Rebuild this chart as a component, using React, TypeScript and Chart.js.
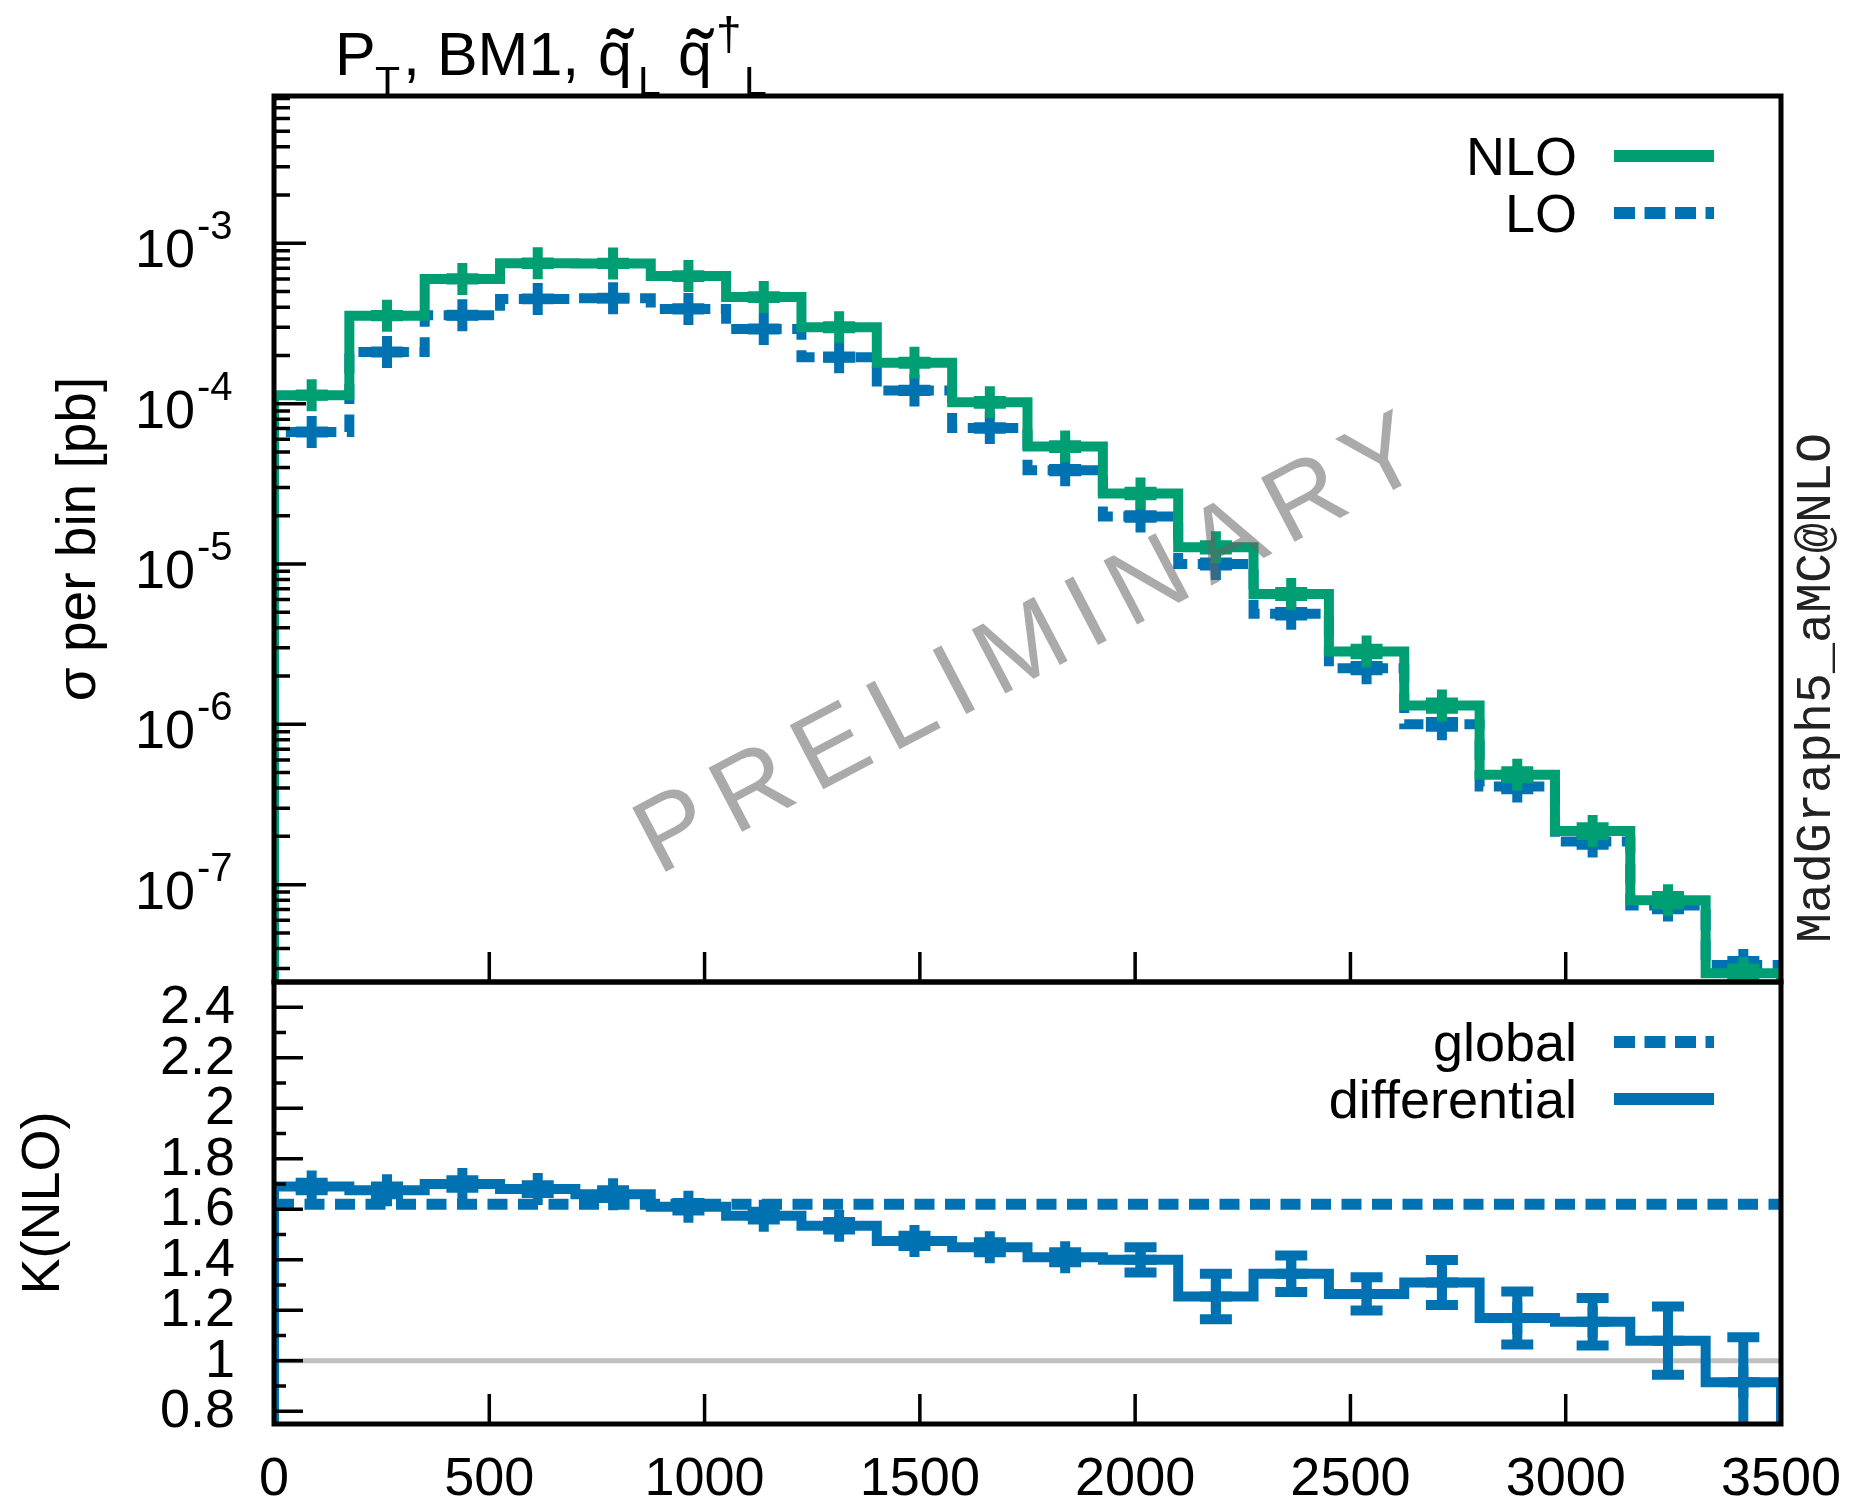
import React, { useEffect, useRef } from 'react';
import { Chart, registerables } from 'chart.js';

Chart.register(...registerables);

// ---------------- data ----------------
const binEdges = [0, 175, 350, 525, 700, 875, 1050, 1225, 1400, 1575, 1750, 1925, 2100, 2275, 2450, 2625, 2800, 2975, 3150, 3325, 3500];
const binCenters = [87.5, 262.5, 437.5, 612.5, 787.5, 962.5, 1137.5, 1312.5, 1487.5, 1662.5, 1837.5, 2012.5, 2187.5, 2362.5, 2537.5, 2712.5, 2887.5, 3062.5, 3237.5, 3412.5];

const nloSigma = [1.13e-4, 3.54e-4, 6.0e-4, 7.52e-4, 7.5e-4, 6.25e-4, 4.62e-4, 3.0e-4, 1.8e-4, 1.02e-4, 5.4e-5, 2.75e-5, 1.27e-5, 6.5e-6, 2.85e-6, 1.31e-6, 4.85e-7, 2.16e-7, 8.0e-8, 2.8e-8];
const loSigma = [6.66e-5, 2.1e-4, 3.56e-4, 4.5e-4, 4.55e-4, 3.9e-4, 2.92e-4, 1.95e-4, 1.21e-4, 7.05e-5, 3.85e-5, 1.98e-5, 1.0e-5, 4.9e-6, 2.24e-6, 1.0e-6, 4.1e-7, 1.86e-7, 7.4e-8, 3.15e-8];
const nloRelErr = [0.01, 0.01, 0.01, 0.01, 0.01, 0.012, 0.012, 0.015, 0.015, 0.02, 0.02, 0.025, 0.03, 0.03, 0.04, 0.045, 0.05, 0.055, 0.06, 0.07];
const loRelErr = [0.006, 0.006, 0.006, 0.006, 0.006, 0.008, 0.008, 0.01, 0.01, 0.012, 0.015, 0.018, 0.02, 0.025, 0.03, 0.035, 0.04, 0.045, 0.05, 0.06];

const kDifferential = [1.69, 1.675, 1.70, 1.68, 1.66, 1.61, 1.575, 1.535, 1.475, 1.45, 1.41, 1.40, 1.255, 1.345, 1.265, 1.31, 1.17, 1.155, 1.08, 0.915];
const kDifferentialErr = [0.015, 0.015, 0.015, 0.015, 0.015, 0.015, 0.015, 0.015, 0.02, 0.02, 0.02, 0.05, 0.09, 0.072, 0.066, 0.089, 0.105, 0.094, 0.135, 0.178];
const kGlobal = [1.62, 1.62];
const kGlobalX = [0, 3500];
const kReference = [1, 1];

const xTickValues = [0, 500, 1000, 1500, 2000, 2500, 3000, 3500];
const xTickLabels = ['0', '500', '1000', '1500', '2000', '2500', '3000', '3500'];
const sigmaMajorTicks = [1e-3, 1e-4, 1e-5, 1e-6, 1e-7];
const sigmaTickExponents = ['-3', '-4', '-5', '-6', '-7'];
const kMajorTicks = [0.8, 1, 1.2, 1.4, 1.6, 1.8, 2, 2.2, 2.4];
const kTickLabels = ['0.8', '1', '1.2', '1.4', '1.6', '1.8', '2', '2.2', '2.4'];
const kMinorTicks = [0.9, 1.1, 1.3, 1.5, 1.7, 1.9, 2.1, 2.3];

const upperLegend = ['NLO', 'LO'];
const lowerLegend = ['global', 'differential'];
const yTitleUpper = 'σ per bin [pb]';
const yTitleLower = 'K(NLO)';
const sideText = 'MadGraph5_aMC@NLO';
const watermark = 'PRELIMINARY';

// ---------------- style ----------------
const W = 1861;
const H = 1509;
const FONT = '"Liberation Sans", Arial, Helvetica, sans-serif';
const MONO = '"Liberation Mono", "Courier New", monospace';
const GREEN = '#009E73';
const BLUE = '#0072B2';
const DASH = [20, 10.5];

function stepPoints(values: number[], floor: number) {
  const pts: { x: number; y: number }[] = [{ x: binEdges[0], y: floor }];
  values.forEach((v, i) => pts.push({ x: binEdges[i], y: v }));
  pts.push({ x: binEdges[binEdges.length - 1], y: values[values.length - 1] });
  pts.push({ x: binEdges[binEdges.length - 1], y: floor });
  return pts;
}

function markerPoints(values: number[]) {
  return binCenters.map((x, i) => ({ x, y: values[i] }));
}

const errorBarPlugin = {
  id: 'errorBars',
  afterDatasetDraw(chart: any, args: any) {
    const ds = chart.data.datasets[args.index];
    if (!ds.errors) return;
    const meta = args.meta;
    const xs = chart.scales[meta.xAxisID];
    const ys = chart.scales[meta.yAxisID];
    const a = chart.chartArea;
    const ctx = chart.ctx;
    ctx.save();
    ctx.beginPath();
    ctx.rect(a.left, a.top, a.right - a.left, a.bottom - a.top);
    ctx.clip();
    ctx.strokeStyle = ds.pointBorderColor;
    ctx.lineWidth = ds.errorWidth;
    ctx.lineCap = 'butt';
    ctx.setLineDash([]);
    ds.data.forEach((p: any, i: number) => {
      const e = ds.errors[i];
      const px = xs.getPixelForValue(p.x);
      const y1 = ys.getPixelForValue(p.y - e);
      const y2 = ys.getPixelForValue(p.y + e);
      const cap = 16;
      ctx.beginPath();
      ctx.moveTo(px, y1);
      ctx.lineTo(px, y2);
      ctx.moveTo(px - cap, y1);
      ctx.lineTo(px + cap, y1);
      ctx.moveTo(px - cap, y2);
      ctx.lineTo(px + cap, y2);
      ctx.stroke();
    });
    ctx.restore();
  },
};

function drawRotatedText(ctx: CanvasRenderingContext2D, text: string, x: number, y: number, font: string, color: string) {
  ctx.save();
  ctx.translate(x, y);
  ctx.rotate(-Math.PI / 2);
  ctx.font = font;
  ctx.fillStyle = color;
  ctx.textAlign = 'center';
  ctx.textBaseline = 'alphabetic';
  ctx.fillText(text, 0, 0);
  ctx.restore();
}

function drawLegend(ctx: CanvasRenderingContext2D, a: any, labels: string[], styles: { color: string; dash: number[] }[]) {
  ctx.save();
  ctx.font = `54px ${FONT}`;
  ctx.textAlign = 'right';
  ctx.textBaseline = 'alphabetic';
  labels.forEach((lab, i) => {
    const y = a.top + 60 + i * 57;
    ctx.fillStyle = '#000';
    ctx.fillText(lab, a.right - 204, y + 19);
    ctx.strokeStyle = styles[i].color;
    ctx.lineWidth = 12;
    ctx.lineCap = 'butt';
    ctx.setLineDash(styles[i].dash);
    ctx.beginPath();
    ctx.moveTo(a.right - 167, y);
    ctx.lineTo(a.right - 67, y);
    ctx.stroke();
    ctx.setLineDash([]);
  });
  ctx.restore();
}

function drawFrame(ctx: CanvasRenderingContext2D, a: any) {
  ctx.save();
  ctx.strokeStyle = '#000';
  ctx.lineWidth = 5;
  ctx.setLineDash([]);
  ctx.strokeRect(a.left, a.top, a.right - a.left, a.bottom - a.top);
  ctx.restore();
}

const upperDecor = {
  id: 'upperDecor',
  afterDatasetsDraw(chart: any) {
    const ctx: CanvasRenderingContext2D = chart.ctx;
    ctx.save();
    ctx.translate(1030, 648);
    ctx.rotate((-27.7 * Math.PI) / 180);
    ctx.font = `105px ${FONT}`;
    (ctx as any).letterSpacing = '16px';
    ctx.fillStyle = 'rgba(100,100,100,0.55)';
    ctx.textAlign = 'center';
    ctx.textBaseline = 'middle';
    ctx.fillText(watermark, 8, 0);
    ctx.restore();
  },
  afterDraw(chart: any) {
    const ctx: CanvasRenderingContext2D = chart.ctx;
    const a = chart.chartArea;
    const xs = chart.scales.x;
    const ys = chart.scales.y;
    ctx.save();
    ctx.strokeStyle = '#000';
    ctx.lineWidth = 3.5;
    ctx.beginPath();
    xTickValues.forEach((v) => {
      const px = xs.getPixelForValue(v);
      ctx.moveTo(px, a.bottom);
      ctx.lineTo(px, a.bottom - 30);
    });
    const lo = Math.floor(Math.log10(ys.min));
    const hi = Math.ceil(Math.log10(ys.max));
    for (let e = lo; e <= hi; e++) {
      for (let m = 1; m <= 9; m++) {
        const v = m * Math.pow(10, e);
        if (v < ys.min || v > ys.max) continue;
        const py = ys.getPixelForValue(v);
        ctx.moveTo(a.left, py);
        ctx.lineTo(a.left + (m === 1 ? 32 : 16), py);
      }
    }
    ctx.stroke();
    ctx.restore();
    drawFrame(ctx, a);

    ctx.save();
    ctx.fillStyle = '#000';
    ctx.textBaseline = 'alphabetic';
    sigmaMajorTicks.forEach((v, i) => {
      const py = ys.getPixelForValue(v);
      ctx.textAlign = 'left';
      ctx.font = `40px ${FONT}`;
      ctx.fillText(sigmaTickExponents[i], a.left - 77, py - 4);
      ctx.textAlign = 'right';
      ctx.font = `54px ${FONT}`;
      ctx.fillText('10', a.left - 79, py + 24);
    });
    ctx.restore();

    drawRotatedText(ctx, yTitleUpper, 95, (a.top + a.bottom) / 2, `55px ${FONT}`, '#000');
    drawRotatedText(ctx, sideText, 1830, 688, `50px ${MONO}`, '#222');

    // title
    ctx.save();
    ctx.fillStyle = '#000';
    ctx.textAlign = 'left';
    ctx.textBaseline = 'alphabetic';
    const seg = (t: string, x: number, y: number, size: number) => {
      ctx.font = `${size}px ${FONT}`;
      ctx.fillText(t, x, y);
    };
    seg('P', 335, 75, 61);
    seg('T', 375, 95, 41);
    seg(', BM1,', 403, 75, 61);
    seg('q', 598, 75, 61);
    seg('˜', 607, 86, 80);
    seg('L', 638, 95, 41);
    seg('q', 678, 75, 61);
    seg('˜', 687, 86, 80);
    seg('†', 716, 50, 46);
    seg('L', 744, 95, 41);
    ctx.restore();

    drawLegend(ctx, a, upperLegend, [
      { color: GREEN, dash: [] },
      { color: BLUE, dash: [21, 9.5] },
    ]);
  },
};

const lowerDecor = {
  id: 'lowerDecor',
  afterDraw(chart: any) {
    const ctx: CanvasRenderingContext2D = chart.ctx;
    const a = chart.chartArea;
    const xs = chart.scales.x;
    const ys = chart.scales.y;
    ctx.save();
    ctx.strokeStyle = '#000';
    ctx.lineWidth = 3.5;
    ctx.beginPath();
    xTickValues.forEach((v) => {
      const px = xs.getPixelForValue(v);
      ctx.moveTo(px, a.bottom);
      ctx.lineTo(px, a.bottom - 30);
    });
    kMajorTicks.forEach((v) => {
      const py = ys.getPixelForValue(v);
      ctx.moveTo(a.left, py);
      ctx.lineTo(a.left + 29, py);
    });
    kMinorTicks.forEach((v) => {
      const py = ys.getPixelForValue(v);
      ctx.moveTo(a.left, py);
      ctx.lineTo(a.left + 12, py);
    });
    ctx.stroke();
    ctx.restore();
    drawFrame(ctx, a);

    ctx.save();
    ctx.fillStyle = '#000';
    ctx.font = `54px ${FONT}`;
    ctx.textAlign = 'right';
    ctx.textBaseline = 'middle';
    kMajorTicks.forEach((v, i) => {
      ctx.fillText(kTickLabels[i], a.left - 39, ys.getPixelForValue(v) + 1);
    });
    ctx.textAlign = 'center';
    ctx.textBaseline = 'alphabetic';
    xTickValues.forEach((v, i) => {
      ctx.fillText(xTickLabels[i], xs.getPixelForValue(v), a.bottom + 71);
    });
    ctx.restore();

    drawRotatedText(ctx, yTitleLower, 59, (a.top + a.bottom) / 2, `54px ${FONT}`, '#000');

    drawLegend(ctx, a, lowerLegend, [
      { color: BLUE, dash: [21, 9.5] },
      { color: BLUE, dash: [] },
    ]);
  },
};

const commonOptions = {
  responsive: false,
  maintainAspectRatio: false,
  devicePixelRatio: 1,
  animation: false as const,
  events: [] as any[],
  plugins: { legend: { display: false }, tooltip: { enabled: false }, title: { display: false } },
};

function upperConfig(): any {
  return {
    type: 'line',
    data: {
      datasets: [
        {
          label: upperLegend[0],
          data: markerPoints(nloSigma),
          showLine: false,
          pointStyle: 'cross',
          pointRadius: 16,
          pointBorderWidth: 10,
          pointBorderColor: GREEN,
          pointBackgroundColor: GREEN,
          borderColor: GREEN,
          errors: nloSigma.map((v, i) => v * nloRelErr[i]),
          errorWidth: 10,
        },
        {
          label: upperLegend[0],
          data: stepPoints(nloSigma, 1e-10),
          stepped: 'before',
          borderColor: GREEN,
          borderWidth: 10,
          pointRadius: 0,
          fill: false,
        },
        {
          label: upperLegend[1],
          data: markerPoints(loSigma),
          showLine: false,
          pointStyle: 'cross',
          pointRadius: 16,
          pointBorderWidth: 10,
          pointBorderColor: BLUE,
          pointBackgroundColor: BLUE,
          borderColor: BLUE,
          errors: loSigma.map((v, i) => v * loRelErr[i]),
          errorWidth: 10,
        },
        {
          label: upperLegend[1],
          data: stepPoints(loSigma, 1e-10),
          stepped: 'before',
          borderColor: BLUE,
          borderWidth: 10,
          borderDash: DASH,
          pointRadius: 0,
          fill: false,
        },
      ],
    },
    options: {
      ...commonOptions,
      layout: { padding: { left: 274, top: 96, right: W - 1781, bottom: H - 982 } },
      scales: {
        x: { type: 'linear', min: 0, max: 3500, display: false },
        y: { type: 'logarithmic', min: 2.47e-8, max: 8.3e-3, display: false },
      },
    },
    plugins: [errorBarPlugin, upperDecor],
  };
}

function lowerConfig(): any {
  return {
    type: 'line',
    data: {
      datasets: [
        {
          label: lowerLegend[1],
          data: markerPoints(kDifferential),
          showLine: false,
          pointStyle: 'cross',
          pointRadius: 16,
          pointBorderWidth: 10,
          pointBorderColor: BLUE,
          pointBackgroundColor: BLUE,
          borderColor: BLUE,
          errors: kDifferentialErr,
          errorWidth: 10,
        },
        {
          label: lowerLegend[1],
          data: stepPoints(kDifferential, 0.5),
          stepped: 'before',
          borderColor: BLUE,
          borderWidth: 10,
          pointRadius: 0,
          fill: false,
        },
        {
          label: lowerLegend[0],
          data: kGlobalX.map((x, i) => ({ x, y: kGlobal[i] })),
          borderColor: BLUE,
          borderWidth: 11,
          borderDash: DASH,
          pointRadius: 0,
          fill: false,
        },
        {
          label: 'reference',
          data: kGlobalX.map((x, i) => ({ x, y: kReference[i] })),
          borderColor: '#c0c0c0',
          borderWidth: 5,
          pointRadius: 0,
          fill: false,
        },
      ],
    },
    options: {
      ...commonOptions,
      layout: { padding: { left: 274, top: 982, right: W - 1781, bottom: H - 1424 } },
      scales: {
        x: { type: 'linear', min: 0, max: 3500, display: false },
        y: { type: 'linear', min: 0.75, max: 2.5, display: false },
      },
    },
    plugins: [errorBarPlugin, lowerDecor],
  };
}

export default function App() {
  const upperRef = useRef<HTMLCanvasElement>(null);
  const lowerRef = useRef<HTMLCanvasElement>(null);
  useEffect(() => {
    const c1 = new Chart(upperRef.current as HTMLCanvasElement, upperConfig());
    const c2 = new Chart(lowerRef.current as HTMLCanvasElement, lowerConfig());
    return () => {
      c1.destroy();
      c2.destroy();
    };
  }, []);
  const canvasStyle: React.CSSProperties = { position: 'absolute', left: 0, top: 0, width: W, height: H };
  return (
    <div style={{ position: 'absolute', left: 0, top: 0, width: W, height: H, background: '#ffffff' }}>
      <canvas ref={upperRef} width={W} height={H} style={canvasStyle} />
      <canvas ref={lowerRef} width={W} height={H} style={canvasStyle} />
    </div>
  );
}
